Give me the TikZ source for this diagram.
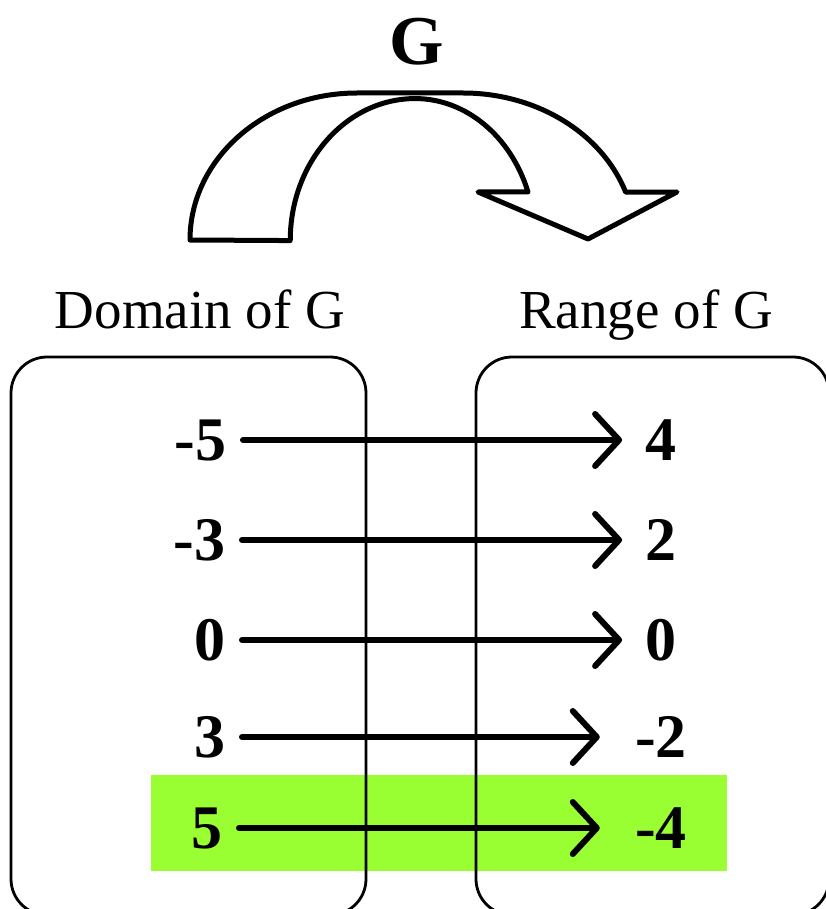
\documentclass[tikz,border=0pt]{standalone}
\usepackage{fontspec}
\setmainfont{Liberation Serif}
\usepackage{xcolor}
\usepackage{tikz}
\usetikzlibrary{arrows.meta,positioning}

\definecolor{hilite}{RGB}{153,255,51}

\begin{document}
\begin{tikzpicture}[
    x=0.5pt,
    y=-0.5pt,
    num/.style = {
        inner sep=0pt,
        font=\fontsize{31}{36}\selectfont\bfseries
    },
    heading/.style = {
        inner sep=0pt,
        anchor=base,
        font=\fontsize{27.5}{32}\selectfont
    },
    setbox/.style = {
        draw=black,
        line width=1.4pt,
        rounded corners=18pt
    },
    bigarrow/.style = {
        draw=black,
        line width=2.5pt,
        line join=round
    },
    maparrow/.style = {
        -{Straight Barb[length=12pt,width=26pt,round]},
        line width=3pt,
        line cap=round,
        shorten <=8pt,
        shorten >=11.5pt
    }
]
    \useasboundingbox (0,0) rectangle (825,909);

    % Highlighted pair
    \fill [hilite] (151,775) rectangle (727,871);

    % Domain and range sets
    \draw [setbox] (11,357) rectangle (366,915);
    \draw [setbox] (476,357) rectangle (829,915);

    % Curved arrow for G
    \draw [bigarrow] (190,240)
        arc [start angle=180, end angle=270, x radius=167, y radius=147]
        -- (463,93)
        arc [start angle=270, end angle=341, x radius=172, y radius=147]
        -- (677,192) -- (588,239) -- (478,192) -- (528,192)
        arc [start angle=340, end angle=270, x radius=120, y radius=142]
        arc [start angle=270, end angle=180, x radius=125, y radius=142]
        -- cycle;

    % Node Definitions
    \node [anchor=base, inner sep=0pt, font=\fontsize{35}{40}\selectfont\bfseries] (gname) at (417,65) {G};

    \node [heading] (domain) at (200,328) {Domain of G};
    \node [heading] (range) at (646,328) {Range of G};

    \node [num, anchor=east] (d1) at (227,440) {-5};
    \node [num, anchor=east] (d2) at (226,540) {-3};
    \node [num, anchor=east] (d3) at (226,640) {0};
    \node [num, anchor=east] (d4) at (226,737) {3};
    \node [num, anchor=east] (d5) at (223,828) {5};

    \node [num] (r1) at (661,440) {4};
    \node [num] (r2) at (661,540) {2};
    \node [num] (r3) at (661,640) {0};
    \node [num] (r4) at (661,737) {-2};
    \node [num] (r5) at (661,828) {-4};

    % Arrows connecting nodes
    \draw [maparrow] (d1) -- (r1);
    \draw [maparrow] (d2) -- (r2);
    \draw [maparrow] (d3) -- (r3);
    \draw [maparrow, shorten >=17.5pt] (d4) -- (r4);
    \draw [maparrow, shorten >=17.5pt] (d5) -- (r5);

\end{tikzpicture}
\end{document}
